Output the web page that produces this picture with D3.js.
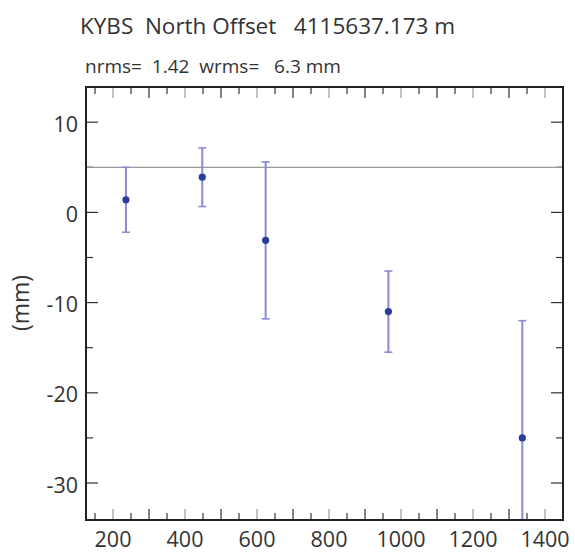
<!DOCTYPE html>
<html><head><meta charset="utf-8">
<script src="https://cdn.jsdelivr.net/npm/d3@7"></script>
<style>body{margin:0;background:#fff}svg{display:block}</style>
</head><body>
<script>
const xs = [236, 448, 624, 965, 1337];
const ys = [1.4, 3.9, -3.1, -11.0, -25.0];
const errs = [3.6, 3.25, 8.7, 4.5, 13.0];
const refLine = 5;
const xTicks = [200, 400, 600, 800, 1000, 1200, 1400];
const yTicks = [-30, -20, -10, 0, 10];
const title = "KYBS  North Offset   4115637.173 m";
const subtitle = "nrms=  1.42  wrms=   6.3 mm";
const yLabel = "(mm)";

const W = 575, H = 554;
const m = {l: 86, t: 87, r: 12, b: 34};
const svg = d3.select("body").append("svg").attr("width", W).attr("height", H);
const x = d3.scaleLinear().domain([125, 1450]).range([m.l, W - m.r]);
const y = d3.scaleLinear().domain([-34.1, 13.9]).range([H - m.b, m.t]);
const font = "'Open Sans', sans-serif";

svg.append("defs").append("clipPath").attr("id", "c").append("rect")
  .attr("x", m.l).attr("y", m.t).attr("width", W - m.r - m.l).attr("height", H - m.b - m.t);

const minorX = d3.range(150, 1450, 50);
const minorY = d3.range(-30, 14, 5);
const axCol = "#333";
[[H - m.b, -1], [m.t, 1]].forEach(([yy, dir]) => {
  svg.selectAll(null).data(minorX).join("line")
    .attr("x1", d => x(d)).attr("x2", d => x(d))
    .attr("y1", yy).attr("y2", d => yy + dir * (d % 100 === 0 ? 11 : 7))
    .attr("stroke", d => d % 200 === 0 ? "#999" : axCol).attr("stroke-width", 1.2);
});
[[m.l, 1], [W - m.r, -1]].forEach(([xx, dir]) => {
  svg.selectAll(null).data(minorY).join("line")
    .attr("y1", d => y(d)).attr("y2", d => y(d))
    .attr("x1", xx).attr("x2", d => xx + dir * (d % 10 === 0 ? 12 : 7))
    .attr("stroke", axCol).attr("stroke-width", 1.2);
});

svg.append("line").attr("x1", m.l).attr("x2", W - m.r).attr("y1", y(refLine)).attr("y2", y(refLine))
  .attr("stroke", "#999").attr("stroke-width", 1.2);

const g = svg.append("g").attr("clip-path", "url(#c)");
const data = xs.map((d, i) => ({x: d, y: ys[i], e: errs[i]}));
const ebCol = "#8a8ad8";
g.selectAll(".eb").data(data).join("line")
  .attr("x1", d => x(d.x)).attr("x2", d => x(d.x))
  .attr("y1", d => y(d.y + d.e)).attr("y2", d => y(d.y - d.e))
  .attr("stroke", ebCol).attr("stroke-width", 2);
["+", "-"].forEach(s => {
  g.selectAll(null).data(data).join("line")
    .attr("x1", d => x(d.x) - 4).attr("x2", d => x(d.x) + 4)
    .attr("y1", d => y(s === "+" ? d.y + d.e : d.y - d.e))
    .attr("y2", d => y(s === "+" ? d.y + d.e : d.y - d.e))
    .attr("stroke", ebCol).attr("stroke-width", 1.6);
});
g.selectAll("circle").data(data).join("circle")
  .attr("cx", d => x(d.x)).attr("cy", d => y(d.y)).attr("r", 3.6)
  .attr("fill", "#2a3d9c");

svg.append("rect").attr("x", m.l).attr("y", m.t).attr("width", W - m.r - m.l).attr("height", H - m.b - m.t)
  .attr("fill", "none").attr("stroke", "#222").attr("stroke-width", 2);

svg.selectAll(".xl").data(xTicks).join("text")
  .attr("x", d => x(d)).attr("y", H - m.b + 27).attr("text-anchor", "middle")
  .attr("font-family", font).attr("font-size", 21.5).attr("fill", "#333").text(d => d);
svg.selectAll(".yl").data(yTicks).join("text")
  .attr("x", m.l - 8).attr("y", d => y(d) + 9.5).attr("text-anchor", "end")
  .attr("font-family", font).attr("font-size", 21.5).attr("fill", "#333").text(d => d);

svg.append("text").attr("transform", `translate(29,${303}) rotate(-90)`)
  .attr("text-anchor", "middle").attr("font-family", font).attr("font-size", 23).attr("fill", "#333").text(yLabel);

svg.append("text").attr("x", 80).attr("y", 34).attr("font-family", font).attr("font-size", 22.5)
  .attr("fill", "#333").attr("xml:space", "preserve").style("white-space", "pre").text(title);
svg.append("text").attr("x", 85).attr("y", 73).attr("font-family", font).attr("font-size", 19)
  .attr("fill", "#333").attr("xml:space", "preserve").style("white-space", "pre").text(subtitle);
</script>
</body></html>
